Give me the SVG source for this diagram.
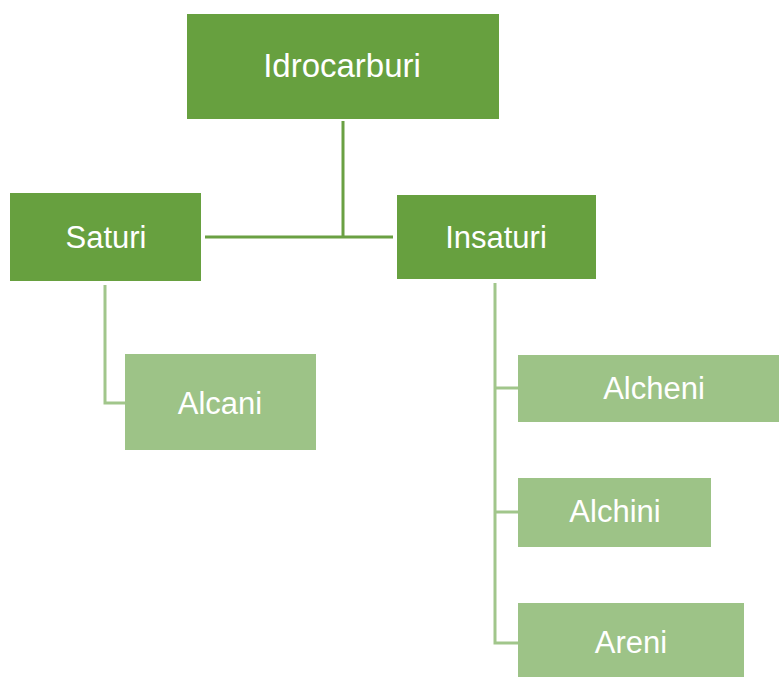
<svg xmlns="http://www.w3.org/2000/svg" width="779" height="677" viewBox="0 0 779 677">
<style>
.dark{fill:#67A03F}
.light{fill:#9DC387}
.lbl{font-family:"Liberation Sans",Arial,sans-serif;fill:#FFFFFF;text-anchor:middle}
.c1{stroke:#6AA043;stroke-width:3;fill:none}
.c2{stroke:#A1C68B;stroke-width:3;fill:none}
</style>
<rect width="779" height="677" fill="#FFFFFF"/>
<g id="connectors">
<path class="c1" d="M343,121 V237 M205,237 H393"/>
<path class="c2" d="M105,285 V403 H125"/>
<path class="c2" d="M495,283 V643 H518 M495,388 H518 M495,512 H518"/>
</g>
<g id="idrocarburi"><rect class="dark" x="187" y="14" width="312" height="105"/><text class="lbl" x="342" y="77" font-size="33">Idrocarburi</text></g>
<g id="saturi"><rect class="dark" x="10" y="193" width="191" height="88"/><text class="lbl" x="106" y="248" font-size="31">Saturi</text></g>
<g id="insaturi"><rect class="dark" x="397" y="195" width="199" height="84"/><text class="lbl" x="496" y="248" font-size="31">Insaturi</text></g>
<g id="alcani"><rect class="light" x="125" y="354" width="191" height="96"/><text class="lbl" x="220" y="414" font-size="31">Alcani</text></g>
<g id="alcheni"><rect class="light" x="518" y="355" width="261" height="67"/><text class="lbl" x="654" y="399" font-size="31">Alcheni</text></g>
<g id="alchini"><rect class="light" x="518" y="478" width="193" height="69"/><text class="lbl" x="615" y="522" font-size="31">Alchini</text></g>
<g id="areni"><rect class="light" x="518" y="603" width="226" height="74"/><text class="lbl" x="631" y="653" font-size="31">Areni</text></g>
</svg>
